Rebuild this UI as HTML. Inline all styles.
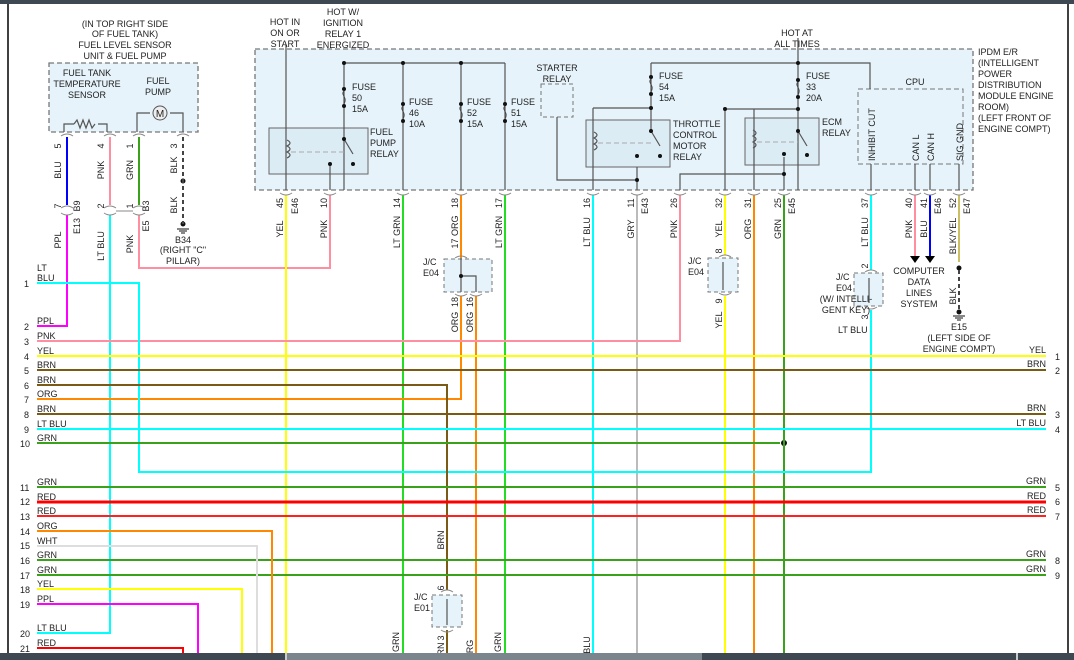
<!DOCTYPE html>
<html><head><meta charset="utf-8"><style>
html,body{margin:0;padding:0;background:#fff}
svg{display:block}
text{font-family:"Liberation Sans",sans-serif;font-size:9px;fill:#222}
</style></head><body>
<svg width="1074" height="660" viewBox="0 0 1074 660" xmlns="http://www.w3.org/2000/svg">
<rect width="1074" height="660" fill="#fff"/>
<rect x="0" y="0" width="1074" height="4" fill="#3d4852"/>
<line x1="8" y1="4" x2="8" y2="653" stroke="#000" stroke-width="1.5"/>
<line x1="1068" y1="4" x2="1068" y2="653" stroke="#000" stroke-width="1.5"/>

<!-- boxes -->
<rect x="49" y="63" width="149" height="69" fill="#e6f3fa" stroke="#777" stroke-dasharray="5,3" stroke-width="1.3"/>
<rect x="255" y="49" width="718" height="141" fill="#e6f3fa" stroke="#777" stroke-dasharray="5,3" stroke-width="1.3"/>
<rect x="541" y="84" width="32" height="33" fill="#e6f3fa" stroke="#777" stroke-dasharray="4,3"/>
<rect x="858" y="89" width="105" height="75" fill="#e6f3fa" stroke="#777" stroke-dasharray="5,3"/>
<rect x="269" y="128" width="99" height="46" fill="#dcecf5" stroke="#666"/>
<rect x="586" y="120" width="84" height="47" fill="#dcecf5" stroke="#666"/>
<rect x="745" y="118" width="74" height="47" fill="#dcecf5" stroke="#666"/>
<rect x="444" y="259" width="48" height="33" fill="#e6f3fa" stroke="#777" stroke-dasharray="4,3"/>
<rect x="708" y="258" width="30" height="34" fill="#e6f3fa" stroke="#777" stroke-dasharray="4,3"/>
<rect x="854" y="273" width="29" height="33" fill="#e6f3fa" stroke="#777" stroke-dasharray="4,3"/>
<rect x="432" y="595" width="30" height="32" fill="#e6f3fa" stroke="#777" stroke-dasharray="4,3"/>

<!-- internal gray wiring -->
<g stroke="#555" stroke-width="1.2" fill="none">
<path d="M64 132V124H74M98 124H107V132"/>
<path d="M74 124l3-4 3 8 3-8 3 8 3-8 3 8 3-4" />
<path d="M137 132V113H150M170 113H183V132"/>
<path d="M286 45V190"/>
<path d="M344 63H505M344 63V190M403 63V190M461 63V190M505 63V190"/>
<path d="M330 164V190"/>
<path d="M557 117V180H637M637 167V190M593 108H652M593 108V190"/>
<path d="M798 38V190M651 63H870V89M651 63V130M725 109H798M725 109V190M754 109V190"/>
<path d="M680 190V174H784V157M784 174V190"/>
<path d="M871 164V190M915 164V190M930 164V190M959 164V190"/>
<path d="M461 258V292M461 276H476V292"/>
<path d="M723 262V290M869 278V303M447 599V625"/>
<path d="M344 139l9 15M651 131l9 15M798 131l9 15"/>
<path d="M287 140c4 2 4 4 0 6c4 2 4 4 0 6c4 2 4 4 0 6" />
<path d="M594 132c4 2 4 4 0 6c4 2 4 4 0 6c4 2 4 4 0 6" />
<path d="M753 130c4 2 4 4 0 6c4 2 4 4 0 6c4 2 4 4 0 6" />
</g>
<g stroke="#aaa" stroke-dasharray="5,3" fill="none"><path d="M291 152H344M598 143H651M757 142H798"/></g>
<g fill="#111">
<circle cx="344" cy="63" r="2"/><circle cx="403" cy="63" r="2"/><circle cx="461" cy="63" r="2"/>
<circle cx="344" cy="89" r="2"/><circle cx="344" cy="106" r="2"/><circle cx="344" cy="139" r="2"/><circle cx="353" cy="164" r="2"/><circle cx="330" cy="164" r="2"/>
<circle cx="403" cy="104" r="2"/><circle cx="403" cy="121" r="2"/><circle cx="461" cy="104" r="2"/><circle cx="461" cy="121" r="2"/><circle cx="505" cy="104" r="2"/><circle cx="505" cy="121" r="2"/>
<circle cx="651" cy="77" r="2"/><circle cx="651" cy="94" r="2"/><circle cx="651" cy="108" r="2"/><circle cx="651" cy="131" r="2"/><circle cx="660" cy="156" r="2"/><circle cx="637" cy="156" r="2"/><circle cx="637" cy="180" r="2"/>
<circle cx="798" cy="63" r="2"/><circle cx="798" cy="80" r="2"/><circle cx="798" cy="97" r="2"/><circle cx="798" cy="109" r="2"/><circle cx="725" cy="109" r="2"/><circle cx="798" cy="131" r="2"/><circle cx="807" cy="155" r="2"/><circle cx="784" cy="154" r="2"/><circle cx="784" cy="174" r="2"/>
<circle cx="461" cy="276" r="2"/>
<circle cx="183" cy="181" r="2.5"/><circle cx="183" cy="224" r="2.5"/><circle cx="959" cy="268" r="2.5"/><circle cx="959" cy="312" r="2.5"/>
<circle cx="784" cy="443" r="3"/>
</g>
<circle cx="160" cy="113" r="7" fill="#eee" stroke="#555"/><text x="160" y="117" text-anchor="middle" style="font-size:10px">M</text>
<g stroke="#111" stroke-width="1"><path d="M177 229H189M179 231H187M181 233H185M953 316H965M955 318H963M957 320H961"/></g>
<g stroke="#444" fill="none"><path d="M344 91c-4 4 4 6 0 13M403 106c-4 4 4 6 0 13M461 106c-4 4 4 6 0 13M505 106c-4 4 4 6 0 13M651 79c-4 4 4 6 0 13M798 82c-4 4 4 6 0 13"/></g>

<!-- colored wires -->
<g fill="none" stroke-width="2">
<path stroke="#0000ff" d="M67 137V205"/>
<path stroke="#ff00ff" d="M67 215V326H37"/>
<path stroke="#ff8fa0" d="M110 137V205"/>
<path stroke="#00ffff" d="M110 215V633H37"/>
<path stroke="#3aa21a" d="M139 137V205"/>
<path stroke="#ff8fa0" d="M139 215V268H330V195"/>
<path stroke="#444" stroke-dasharray="4,3" d="M183 137V224"/>
<path stroke="#ffff00" d="M286 195V653"/>
<path stroke="#22dd22" d="M403 195V653M505 195V653"/>
<path stroke="#ff8800" d="M461 195V258M461 296V399H37M476 296V653"/>
<path stroke="#00ffff" d="M593 195V653"/>
<path stroke="#bbbbbb" d="M637 195V653"/>
<path stroke="#ff8fa0" d="M680 195V341H37"/>
<path stroke="#ffff00" d="M725 195V255M725 296V653"/>
<path stroke="#ff8800" d="M754 195V653"/>
<path stroke="#3aa21a" d="M784 195V653"/>
<path stroke="#00ffff" d="M871 195V270M871 310V472H139V283H37"/>
<path stroke="#ff8fa0" d="M915 195V256"/>
<path stroke="#0000ff" d="M930 195V256"/>
<path stroke="#bba830" stroke-width="1.5" d="M959 195V262"/>
<path stroke="#444" stroke-dasharray="4,3" d="M959 270V312"/>
<path stroke="#ffff00" d="M37 356H1046"/>
<path stroke="#7a5a14" d="M37 370H1046M37 414H1046M37 385H447V590M447 630V653"/>
<path stroke="#00ffff" d="M37 429H1046"/>
<path stroke="#3aa21a" d="M37 443H780M37 487H1046M37 560H1046M37 575H1046"/>
<path stroke="#ff0000" stroke-width="3" d="M37 502H1046"/>
<path stroke="#ff2020" d="M37 516H1046"/>
<path stroke="#ff8800" d="M37 531H272V653"/>
<path stroke="#dddddd" d="M37 546H257V653"/>
<path stroke="#ffff00" d="M37 589H242V653"/>
<path stroke="#ff00ff" d="M37 604H198V653"/>
<path stroke="#ff0000" d="M37 648H183V653"/>
</g>
<path d="M910 256h10l-5 7zM925 256h10l-5 7z" fill="#000"/>

<!-- connector arcs -->
<g stroke="#888" fill="none" stroke-width="1">
<path d="M61 136q6-4 12 0M104 136q6-4 12 0M133 136q6-4 12 0M177 136q6-4 12 0M61 208q6-4 12 0M61 213q6 4 12 0M104 208q6-4 12 0M104 213q6 4 12 0M133 208q6-4 12 0M133 213q6 4 12 0M116 211H133"/>
<path d="M280 193q6 4 12 0M324 193q6 4 12 0M397 193q6 4 12 0M455 193q6 4 12 0M499 193q6 4 12 0M587 193q6 4 12 0M631 193q6 4 12 0M674 193q6 4 12 0M719 193q6 4 12 0M748 193q6 4 12 0M778 193q6 4 12 0M865 193q6 4 12 0M909 193q6 4 12 0M924 193q6 4 12 0M953 193q6 4 12 0"/>
<path d="M455 258q6-4 12 0M455 294q6 4 12 0M470 294q6 4 12 0M719 257q6-4 12 0M719 293q6 4 12 0M865 272q6-4 12 0M865 307q6 4 12 0M441 592q6-4 12 0M441 630q6 4 12 0"/>
</g>

<!-- text -->
<g text-anchor="middle">
<text x="125" y="27">(IN TOP RIGHT SIDE</text><text x="125" y="37">OF FUEL TANK)</text><text x="125" y="48">FUEL LEVEL SENSOR</text><text x="125" y="59">UNIT &amp; FUEL PUMP</text>
<text x="87" y="76">FUEL TANK</text><text x="87" y="87">TEMPERATURE</text><text x="87" y="98">SENSOR</text>
<text x="158" y="84">FUEL</text><text x="158" y="95">PUMP</text>
<text x="285" y="25">HOT IN</text><text x="285" y="36">ON OR</text><text x="285" y="47">START</text>
<text x="343" y="15">HOT W/</text><text x="343" y="26">IGNITION</text><text x="343" y="37">RELAY 1</text><text x="343" y="48">ENERGIZED</text>
<text x="557" y="71">STARTER</text><text x="557" y="82">RELAY</text>
<text x="797" y="36">HOT AT</text><text x="797" y="47">ALL TIMES</text>
<text x="915" y="85">CPU</text>
<text x="183" y="243">B34</text><text x="183" y="253">(RIGHT "C"</text><text x="183" y="264">PILLAR)</text>
<text x="919" y="274">COMPUTER</text><text x="919" y="285">DATA</text><text x="919" y="296">LINES</text><text x="919" y="307">SYSTEM</text>
<text x="959" y="330">E15</text><text x="959" y="341">(LEFT SIDE OF</text><text x="959" y="352">ENGINE COMPT)</text>
<text x="846" y="302">(W/ INTELLI-</text><text x="846" y="313">GENT KEY)</text>
</g>
<g>
<text x="352" y="90">FUSE</text><text x="352" y="101">50</text><text x="352" y="112">15A</text>
<text x="409" y="105">FUSE</text><text x="409" y="116">46</text><text x="409" y="127">10A</text>
<text x="467" y="105">FUSE</text><text x="467" y="116">52</text><text x="467" y="127">15A</text>
<text x="511" y="105">FUSE</text><text x="511" y="116">51</text><text x="511" y="127">15A</text>
<text x="659" y="79">FUSE</text><text x="659" y="90">54</text><text x="659" y="101">15A</text>
<text x="806" y="79">FUSE</text><text x="806" y="90">33</text><text x="806" y="101">20A</text>
<text x="370" y="135">FUEL</text><text x="370" y="146">PUMP</text><text x="370" y="157">RELAY</text>
<text x="673" y="127">THROTTLE</text><text x="673" y="138">CONTROL</text><text x="673" y="149">MOTOR</text><text x="673" y="160">RELAY</text>
<text x="822" y="125">ECM</text><text x="822" y="136">RELAY</text>
<text x="978" y="55">IPDM E/R</text><text x="978" y="66">(INTELLIGENT</text><text x="978" y="77">POWER</text><text x="978" y="88">DISTRIBUTION</text><text x="978" y="99">MODULE ENGINE</text><text x="978" y="110">ROOM)</text><text x="978" y="121">(LEFT FRONT OF</text><text x="978" y="132">ENGINE COMPT)</text>
<text x="423" y="265">J/C</text><text x="423" y="276">E04</text>
<text x="688" y="264">J/C</text><text x="688" y="275">E04</text>
<text x="836" y="280">J/C</text><text x="836" y="291">E04</text>
<text x="838" y="333">LT BLU</text>
<text x="414" y="600">J/C</text><text x="414" y="611">E01</text>
</g>
<!-- CPU internal labels -->
<g text-anchor="start">
<text transform="translate(875,161) rotate(-90)">INHIBIT CUT</text>
<text transform="translate(919,161) rotate(-90)">CAN L</text>
<text transform="translate(934,161) rotate(-90)">CAN H</text>
<text transform="translate(963,161) rotate(-90)">SIG GND</text>
</g>
<!-- rotated labels -->
<g>
<text transform="translate(61,146) rotate(-90)" text-anchor="middle">5</text>
<text transform="translate(104,146) rotate(-90)" text-anchor="middle">4</text>
<text transform="translate(133,146) rotate(-90)" text-anchor="middle">1</text>
<text transform="translate(177,146) rotate(-90)" text-anchor="middle">3</text>
<text transform="translate(61,170) rotate(-90)" text-anchor="middle">BLU</text>
<text transform="translate(104,170) rotate(-90)" text-anchor="middle">PNK</text>
<text transform="translate(133,170) rotate(-90)" text-anchor="middle">GRN</text>
<text transform="translate(177,165) rotate(-90)" text-anchor="middle">BLK</text>
<text transform="translate(61,206) rotate(-90)" text-anchor="middle">7</text>
<text transform="translate(104,206) rotate(-90)" text-anchor="middle">2</text>
<text transform="translate(133,206) rotate(-90)" text-anchor="middle">1</text>
<text transform="translate(177,205) rotate(-90)" text-anchor="middle">BLK</text>
<text transform="translate(80,206) rotate(-90)" text-anchor="middle">B9</text>
<text transform="translate(149,206) rotate(-90)" text-anchor="middle">B3</text>
<text transform="translate(80,226) rotate(-90)" text-anchor="middle">E13</text>
<text transform="translate(149,226) rotate(-90)" text-anchor="middle">E5</text>
<text transform="translate(61,240) rotate(-90)" text-anchor="middle">PPL</text>
<text transform="translate(104,246) rotate(-90)" text-anchor="middle">LT BLU</text>
<text transform="translate(133,244) rotate(-90)" text-anchor="middle">PNK</text>
</g>
<g>
<text transform="translate(283,203) rotate(-90)" text-anchor="middle">45</text>
<text transform="translate(298,206) rotate(-90)" text-anchor="middle">E46</text>
<text transform="translate(327,203) rotate(-90)" text-anchor="middle">10</text>
<text transform="translate(400,203) rotate(-90)" text-anchor="middle">14</text>
<text transform="translate(458,203) rotate(-90)" text-anchor="middle">18</text>
<text transform="translate(502,203) rotate(-90)" text-anchor="middle">17</text>
<text transform="translate(590,203) rotate(-90)" text-anchor="middle">16</text>
<text transform="translate(634,203) rotate(-90)" text-anchor="middle">11</text>
<text transform="translate(648,206) rotate(-90)" text-anchor="middle">E43</text>
<text transform="translate(677,203) rotate(-90)" text-anchor="middle">26</text>
<text transform="translate(722,203) rotate(-90)" text-anchor="middle">32</text>
<text transform="translate(751,203) rotate(-90)" text-anchor="middle">31</text>
<text transform="translate(781,203) rotate(-90)" text-anchor="middle">25</text>
<text transform="translate(795,206) rotate(-90)" text-anchor="middle">E45</text>
<text transform="translate(868,203) rotate(-90)" text-anchor="middle">37</text>
<text transform="translate(912,203) rotate(-90)" text-anchor="middle">40</text>
<text transform="translate(927,203) rotate(-90)" text-anchor="middle">41</text>
<text transform="translate(941,206) rotate(-90)" text-anchor="middle">E46</text>
<text transform="translate(956,203) rotate(-90)" text-anchor="middle">52</text>
<text transform="translate(970,206) rotate(-90)" text-anchor="middle">E47</text>
<text transform="translate(283,229) rotate(-90)" text-anchor="middle">YEL</text>
<text transform="translate(327,229) rotate(-90)" text-anchor="middle">PNK</text>
<text transform="translate(400,232) rotate(-90)" text-anchor="middle">LT GRN</text>
<text transform="translate(458,232) rotate(-90)" text-anchor="middle">17 ORG</text>
<text transform="translate(502,232) rotate(-90)" text-anchor="middle">LT GRN</text>
<text transform="translate(590,232) rotate(-90)" text-anchor="middle">LT BLU</text>
<text transform="translate(634,229) rotate(-90)" text-anchor="middle">GRY</text>
<text transform="translate(677,229) rotate(-90)" text-anchor="middle">PNK</text>
<text transform="translate(722,229) rotate(-90)" text-anchor="middle">YEL</text>
<text transform="translate(751,229) rotate(-90)" text-anchor="middle">ORG</text>
<text transform="translate(781,229) rotate(-90)" text-anchor="middle">GRN</text>
<text transform="translate(868,232) rotate(-90)" text-anchor="middle">LT BLU</text>
<text transform="translate(912,229) rotate(-90)" text-anchor="middle">PNK</text>
<text transform="translate(927,229) rotate(-90)" text-anchor="middle">BLU</text>
<text transform="translate(956,236) rotate(-90)" text-anchor="middle">BLK/YEL</text>
<text transform="translate(956,296) rotate(-90)" text-anchor="middle">BLK</text>
<text transform="translate(722,251) rotate(-90)" text-anchor="middle">8</text>
<text transform="translate(722,301) rotate(-90)" text-anchor="middle">9</text>
<text transform="translate(722,320) rotate(-90)" text-anchor="middle">YEL</text>
<text transform="translate(868,266) rotate(-90)" text-anchor="middle">2</text>
<text transform="translate(868,317) rotate(-90)" text-anchor="middle">3</text>
<text transform="translate(458,302) rotate(-90)" text-anchor="middle">18</text>
<text transform="translate(473,302) rotate(-90)" text-anchor="middle">16</text>
<text transform="translate(458,322) rotate(-90)" text-anchor="middle">ORG</text>
<text transform="translate(473,322) rotate(-90)" text-anchor="middle">ORG</text>
<text transform="translate(444,540) rotate(-90)" text-anchor="middle">BRN</text>
<text transform="translate(444,588) rotate(-90)" text-anchor="middle">6</text>
<text transform="translate(444,638) rotate(-90)" text-anchor="middle">3</text>
<text transform="translate(444,652) rotate(-90)" text-anchor="middle">BRN</text>
<text transform="translate(399,642) rotate(-90)" text-anchor="middle">GRN</text>
<text transform="translate(501,642) rotate(-90)" text-anchor="middle">GRN</text>
<text transform="translate(590,645) rotate(-90)" text-anchor="middle">BLU</text>
<text transform="translate(473,650) rotate(-90)" text-anchor="middle">ORG</text>
</g>
<!-- row labels -->
<g>
<text x="24" y="287">1</text><text x="37" y="271">LT</text><text x="37" y="281">BLU</text>
<text x="24" y="330">2</text><text x="37" y="324">PPL</text>
<text x="24" y="345">3</text><text x="37" y="339">PNK</text>
<text x="24" y="360">4</text><text x="37" y="354">YEL</text>
<text x="24" y="374">5</text><text x="37" y="368">BRN</text>
<text x="24" y="389">6</text><text x="37" y="383">BRN</text>
<text x="24" y="403">7</text><text x="37" y="397">ORG</text>
<text x="24" y="418">8</text><text x="37" y="412">BRN</text>
<text x="24" y="433">9</text><text x="37" y="427">LT BLU</text>
<text x="20" y="447">10</text><text x="37" y="441">GRN</text>
<text x="20" y="491">11</text><text x="37" y="485">GRN</text>
<text x="20" y="505">12</text><text x="37" y="500">RED</text>
<text x="20" y="520">13</text><text x="37" y="514">RED</text>
<text x="20" y="535">14</text><text x="37" y="529">ORG</text>
<text x="20" y="549">15</text><text x="37" y="544">WHT</text>
<text x="20" y="564">16</text><text x="37" y="558">GRN</text>
<text x="20" y="579">17</text><text x="37" y="573">GRN</text>
<text x="20" y="593">18</text><text x="37" y="587">YEL</text>
<text x="20" y="608">19</text><text x="37" y="602">PPL</text>
<text x="20" y="637">20</text><text x="37" y="631">LT BLU</text>
<text x="20" y="652">21</text><text x="37" y="646">RED</text>
</g>
<g text-anchor="end">
<text x="1046" y="353">YEL</text><text x="1046" y="367">BRN</text><text x="1046" y="411">BRN</text><text x="1046" y="426">LT BLU</text>
<text x="1046" y="484">GRN</text><text x="1046" y="499">RED</text><text x="1046" y="513">RED</text><text x="1046" y="557">GRN</text><text x="1046" y="572">GRN</text>
</g>
<g>
<text x="1055" y="360">1</text><text x="1055" y="374">2</text><text x="1055" y="418">3</text><text x="1055" y="433">4</text>
<text x="1055" y="491">5</text><text x="1055" y="505">6</text><text x="1055" y="520">7</text><text x="1055" y="564">8</text><text x="1055" y="579">9</text>
</g>
<rect x="0" y="653" width="1074" height="7" fill="#3d4852"/>
<rect x="287" y="653" width="415" height="7" fill="#7b858d"/>
<rect x="285" y="653" width="2" height="7" fill="#ccc"/>
<rect x="1016" y="653" width="2" height="7" fill="#ccc"/>
</svg>
</body></html>
